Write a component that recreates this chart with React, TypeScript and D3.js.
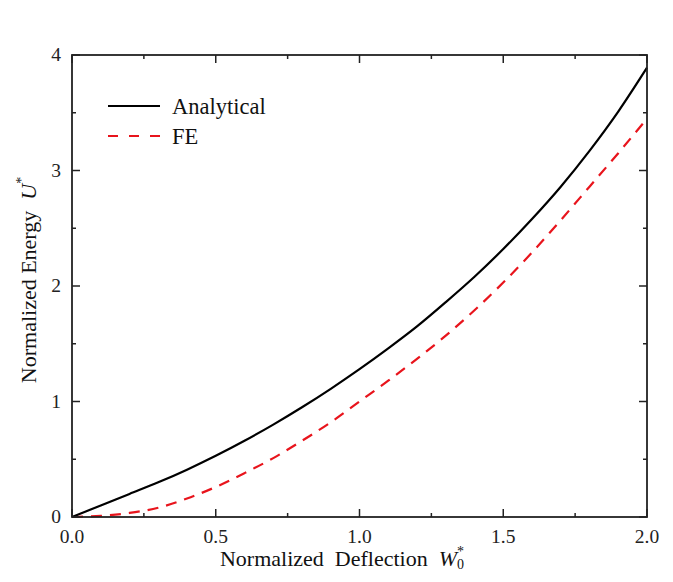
import React from "react";
import * as d3 from "d3";

const deflection = [0, 0.1, 0.2, 0.3, 0.4, 0.5, 0.6, 0.7, 0.8, 0.9, 1.0, 1.1, 1.2, 1.3, 1.4, 1.5, 1.6, 1.7, 1.8, 1.9, 2.0];
const analytical = [0, 0.1, 0.2, 0.3, 0.41, 0.53, 0.66, 0.8, 0.95, 1.11, 1.28, 1.46, 1.65, 1.86, 2.08, 2.32, 2.58, 2.86, 3.17, 3.51, 3.89];
const fe = [0, 0.01, 0.035, 0.08, 0.16, 0.26, 0.38, 0.51, 0.66, 0.82, 1.0, 1.18, 1.37, 1.57, 1.79, 2.03, 2.29, 2.57, 2.86, 3.15, 3.45];
const xTicks = [0, 0.5, 1.0, 1.5, 2.0];
const xMinor = [0.25, 0.75, 1.25, 1.75];
const yTicks = [0, 1, 2, 3, 4];
const yMinor = [0.5, 1.5, 2.5, 3.5];

export default function App() {
  const W = 673, H = 582;
  const L = 72, R = 647, T = 55, B = 517;
  const x = d3.scaleLinear().domain([0, 2]).range([L, R]);
  const y = d3.scaleLinear().domain([0, 4]).range([B, T]);
  const line = d3.line<number>().x((_, i) => x(deflection[i])).y(d => y(d)).curve(d3.curveMonotoneX);
  const font = "'Liberation Serif', 'Times New Roman', serif";
  const ticks: JSX.Element[] = [];
  xTicks.forEach((t, i) => {
    ticks.push(<line key={"xb" + i} x1={x(t)} x2={x(t)} y1={B} y2={B - 8} stroke="#222" strokeWidth={1.5} />);
    ticks.push(<line key={"xt" + i} x1={x(t)} x2={x(t)} y1={T} y2={T + 8} stroke="#222" strokeWidth={1.5} />);
  });
  xMinor.forEach((t, i) => {
    ticks.push(<line key={"xbm" + i} x1={x(t)} x2={x(t)} y1={B} y2={B - 4} stroke="#222" strokeWidth={1.5} />);
    ticks.push(<line key={"xtm" + i} x1={x(t)} x2={x(t)} y1={T} y2={T + 4} stroke="#222" strokeWidth={1.5} />);
  });
  yTicks.forEach((t, i) => {
    ticks.push(<line key={"yl" + i} x1={L} x2={L + 8} y1={y(t)} y2={y(t)} stroke="#222" strokeWidth={1.5} />);
    ticks.push(<line key={"yr" + i} x1={R} x2={R - 8} y1={y(t)} y2={y(t)} stroke="#222" strokeWidth={1.5} />);
  });
  yMinor.forEach((t, i) => {
    ticks.push(<line key={"ylm" + i} x1={L} x2={L + 4} y1={y(t)} y2={y(t)} stroke="#222" strokeWidth={1.5} />);
    ticks.push(<line key={"yrm" + i} x1={R} x2={R - 4} y1={y(t)} y2={y(t)} stroke="#222" strokeWidth={1.5} />);
  });
  return (
    <svg width={W} height={H} style={{ position: "absolute", left: 0, top: 0, whiteSpace: "pre" }} fontFamily={font}>
      <rect width={W} height={H} fill="#fff" />
      <path d={line(fe) || ""} fill="none" stroke="#e8141c" strokeWidth={2.2} strokeDasharray="11,8" />
      <path d={line(analytical) || ""} fill="none" stroke="#000" strokeWidth={2.2} />
      <rect x={L} y={T} width={R - L} height={B - T} fill="none" stroke="#222" strokeWidth={1.8} />
      {ticks}
      {xTicks.map((t, i) => (
        <text key={"xl" + i} x={x(t)} y={543} textAnchor="middle" fontSize={19.5} fill="#222">{d3.format(".1f")(t)}</text>
      ))}
      {yTicks.map((t, i) => (
        <text key={"ylb" + i} x={61} y={y(t) + 6} textAnchor="end" fontSize={19.5} fill="#222">{t}</text>
      ))}
      <text x={342} y={566} textAnchor="middle" fontSize={22} fill="#111" style={{ whiteSpace: "pre" }}>
        <tspan>{"Normalized  Deflection  "}</tspan>
        <tspan fontStyle="italic">W</tspan>
        <tspan fontSize={14} dy={-10}>*</tspan>
        <tspan fontSize={14} dx={-7} dy={13}>0</tspan>
      </text>
      <text transform={`translate(36, 280) rotate(-90)`} textAnchor="middle" fontSize={22} fill="#111" style={{ whiteSpace: "pre" }}>
        <tspan>{"Normalized Energy  "}</tspan>
        <tspan fontStyle="italic">U</tspan>
        <tspan fontSize={14} dy={-10}>*</tspan>
      </text>
      <line x1={108} x2={160} y1={106} y2={106} stroke="#000" strokeWidth={2.2} />
      <text x={172} y={114} fontSize={22.5} fill="#111">Analytical</text>
      <line x1={108} x2={160} y1={136} y2={136} stroke="#e8141c" strokeWidth={2.2} strokeDasharray="10,11" />
      <text x={172} y={144} fontSize={22.5} fill="#111">FE</text>
    </svg>
  );
}
